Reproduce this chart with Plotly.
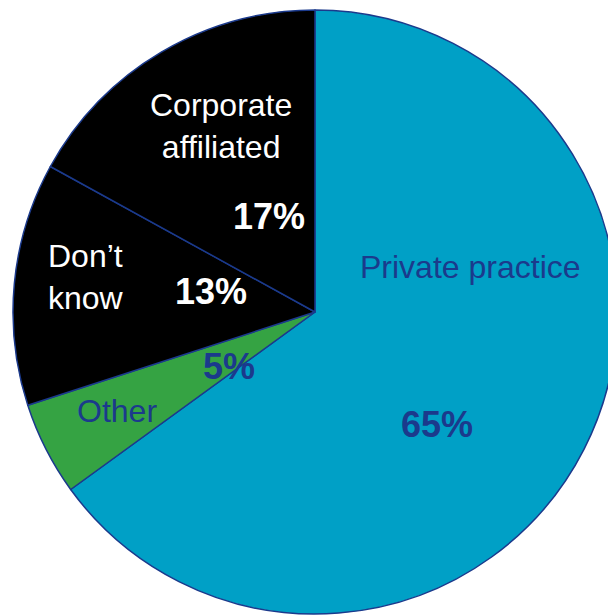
import plotly.graph_objects as go

# Survey share by practice type (percent)
categories = ["Private practice", "Other", "Don\u2019t know", "Corporate affiliated"]
shares = [65, 5, 13, 17]
label_lines = ["Private practice", "Other", "Don\u2019t<br>know", "Corporate<br>affiliated"]

slice_colors = ["#00A0C6", "#35A343", "#000000", "#000000"]
text_colors = ["#1B3A8C", "#1B3A8C", "#FFFFFF", "#FFFFFF"]
edge_color = "#1B3A8C"

W, H = 620, 620
cx, cy, r = 315, 312, 302


def px_x(x):
    return x / W


def px_y(y):
    return 1 - y / H


fig = go.Figure(
    go.Pie(
        labels=categories,
        values=shares,
        sort=False,
        direction="clockwise",
        rotation=0,
        marker=dict(colors=slice_colors, line=dict(color=edge_color, width=1.5)),
        textinfo="none",
        hoverinfo="label+percent",
        showlegend=False,
        domain=dict(x=[px_x(cx - r), px_x(cx + r)], y=[px_y(cy + r), px_y(cy - r)]),
    )
)

# Category name and percentage positions (pixel centres)
name_pos = [(470, 267), (117, 411), (86, 277), (221, 126)]
pct_pos = [(437, 424), (229, 366), (211, 291), (269, 216)]

annotations = []
for i in range(len(categories)):
    nx, ny = name_pos[i]
    annotations.append(dict(
        x=px_x(nx), y=px_y(ny), xref="paper", yref="paper",
        text=label_lines[i], showarrow=False, xanchor="center", yanchor="middle",
        font=dict(family="Liberation Sans, Arial, sans-serif", size=32, color=text_colors[i]),
    ))
    qx, qy = pct_pos[i]
    annotations.append(dict(
        x=px_x(qx), y=px_y(qy), xref="paper", yref="paper",
        text=f"<b>{shares[i]}%</b>", showarrow=False, xanchor="center", yanchor="middle",
        font=dict(family="Liberation Sans, Arial, sans-serif", size=36, color=text_colors[i]),
    ))

fig.update_layout(
    width=W, height=H,
    margin=dict(l=0, r=0, t=0, b=0),
    paper_bgcolor="white",
    plot_bgcolor="white",
    annotations=annotations,
)

fig.write_html(
    "out.html",
    config={"displayModeBar": False},
    post_script="document.documentElement.style.overflow='hidden';"
                "document.body.style.overflow='hidden';document.body.style.margin='0';",
)
